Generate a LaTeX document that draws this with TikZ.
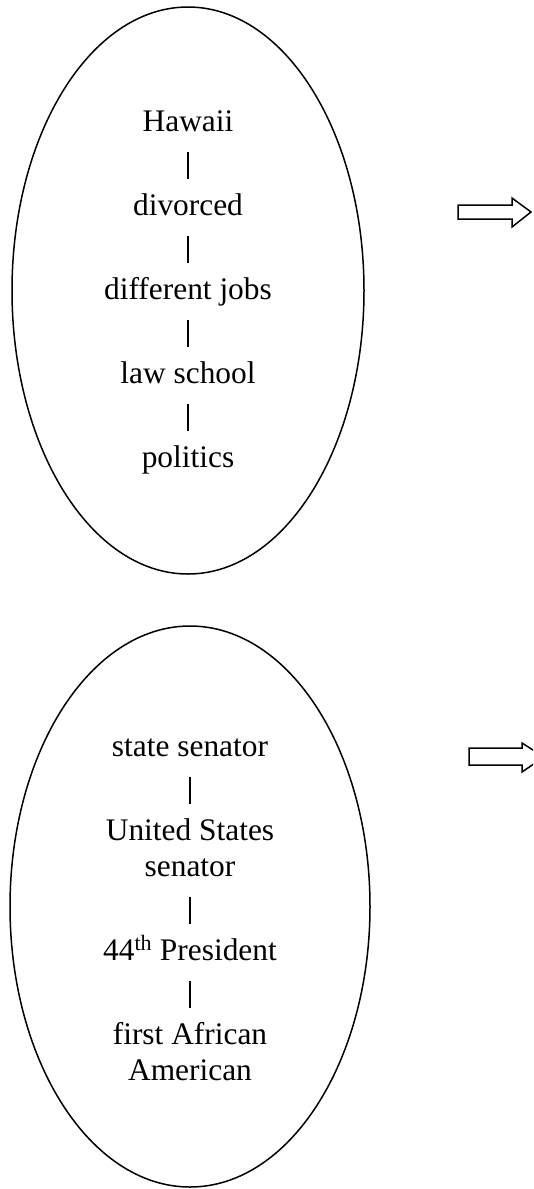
\documentclass[tikz,border=0pt]{standalone}
\usepackage{fontspec}
\setmainfont{Liberation Serif}
\begin{document}
\begin{tikzpicture}[x=1pt,y=-1pt,
  lbl/.style={anchor=base,inner sep=0pt,font=\fontsize{31.4}{36}\selectfont,align=center},
  oval/.style={draw,line width=1.5pt},
  bar/.style={line width=1.1pt},
  blockarrow/.style={draw,line width=1.5pt,line join=miter}]
\useasboundingbox (0,0) rectangle (533,1189);
\clip (0,0) rectangle (533,1189);
% ellipses
\draw[oval] (188,290.5) ellipse [x radius=176, y radius=283.5];
\draw[oval] (190,906.5) ellipse [x radius=180, y radius=280.5];
% first ellipse texts
\node[lbl] (t1) at (188,131) {Hawaii};
\node[lbl] (t2) at (188,215) {divorced};
\node[lbl] (t3) at (188,299) {different jobs};
\node[lbl] (t4) at (188,383) {law school};
\node[lbl] (t5) at (188,467) {politics};
\foreach \a/\b in {t1/t2,t2/t3,t3/t4,t4/t5}
  \draw[bar] ([yshift=-21pt]\a.base) -- ([yshift=36pt]\b.base);
% second ellipse texts (base = baseline of last line)
\node[lbl] (s1) at (190,756) {state senator};
\node[lbl] (s2) at (190,876) {United States\\senator};
\node[lbl] (s3) at (190,960) {44\textsuperscript{th} President};
\node[lbl] (s4) at (190,1080) {first African\\American};
\draw[bar] ([yshift=-21pt]s1.base) -- ([yshift=72pt]s2.base);
\draw[bar] ([yshift=-21pt]s2.base) -- ([yshift=36pt]s3.base);
\draw[bar] ([yshift=-21pt]s3.base) -- ([yshift=72pt]s4.base);
% block arrows
\draw[blockarrow] (458,205) -- (512,205) -- (512,198) -- (531,212) -- (512,227) -- (512,219) -- (458,219) -- cycle;
\draw[blockarrow] (469,748) -- (522,748) -- (522,743) -- (544,757) -- (522,772) -- (522,765) -- (469,765) -- cycle;
\end{tikzpicture}
\end{document}
